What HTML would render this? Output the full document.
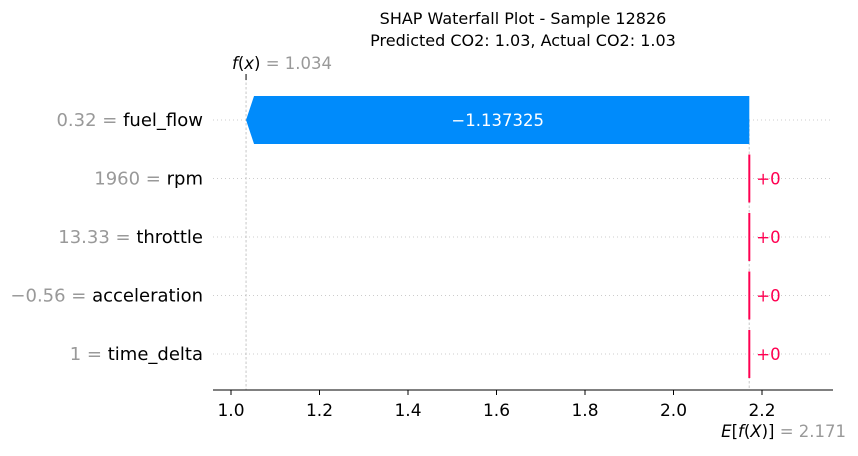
<!DOCTYPE html>
<html><head><meta charset="utf-8"><style>
body{margin:0;background:#fff;}
svg text{font-family:"DejaVu Sans","Liberation Sans",sans-serif;}
</style></head><body>
<svg id="chart" width="858" height="451">
<text x="523" y="24" font-size="16" text-anchor="middle">SHAP Waterfall Plot - Sample 12826</text>
<text x="523" y="46" font-size="16" text-anchor="middle">Predicted CO2: 1.03, Actual CO2: 1.03</text>
<g id="plot"></g>
</svg>
<script>
const features=["fuel_flow","rpm","throttle","acceleration","time_delta"];
const featureValues=["0.32","1960","13.33","\u22120.56","1"];
const shapValues=[-1.137325,0,0,0,0];
const shapLabels=["\u22121.137325","+0","+0","+0","+0"];
const baseValue=2.171;
const fx=1.034;
const ticks=[1.0,1.2,1.4,1.6,1.8,2.0,2.2];
const tickLabels=["1.0","1.2","1.4","1.6","1.8","2.0","2.2"];

const NS="http://www.w3.org/2000/svg";
const g=document.getElementById('plot');
function X(v){return 231+(v-1.0)*442.5;}
function rowY(i){return 120+i*58.5;}
function mk(t,a,txt){const e=document.createElementNS(NS,t);for(const k in a)e.setAttribute(k,a[k]);if(txt!==undefined)e.textContent=txt;g.appendChild(e);return e;}

features.forEach((f,i)=>{
  const l=mk('line',{x1:213,x2:833,y1:rowY(i),y2:rowY(i),stroke:'#ccc','stroke-dasharray':'1,3','stroke-width':1});
  
  
});
const v1=mk('line',{x1:X(fx),x2:X(fx),y1:78,y2:390,stroke:'#bbb','stroke-dasharray':'2.5,2','stroke-width':0.8});


const v2=mk('line',{x1:X(baseValue),x2:X(baseValue),y1:120,y2:390,stroke:'#bbb','stroke-dasharray':'2.5,2','stroke-width':0.8});


const fxt=mk('line',{x1:X(fx),x2:X(fx),y1:74,y2:80,stroke:'#000','stroke-width':1});



let cur=fx;
features.forEach((f,i)=>{
  const v=shapValues[i];
  const start=cur, end=cur-v;
  const y=rowY(i);
  if(v!==0){
    const x0=X(Math.min(start,end)), x1=X(Math.max(start,end));
    const h=24, tip=8;
    let pts;
    if(v<0) pts=`${x0},${y} ${x0+tip},${y-h} ${x1},${y-h} ${x1},${y+h} ${x0+tip},${y+h}`;
    else pts=`${x0},${y-h} ${x1-tip},${y-h} ${x1},${y} ${x1-tip},${y+h} ${x0},${y+h}`;
    const p=mk('polygon',{points:pts,fill:v<0?'#008bfb':'#ff0051'});
    
    
    const t=mk('text',{x:(x0+x1)/2,y:y+6,'font-size':16.5,fill:'#fff','text-anchor':'middle'},shapLabels[i]);
    
    
  } else {
    const x=X(start);
    const l=mk('line',{x1:x,x2:x,y1:y-24,y2:y+24,stroke:'#ff0051','stroke-width':2});
    
    
    const t=mk('text',{x:x+7,y:y+6,'font-size':16.5,fill:'#ff0051'},shapLabels[i]);
    
    
  }
  cur=end;
  const lab=mk('text',{x:203,y:y+6,'font-size':18,'text-anchor':'end'});
  
  
  const s1=document.createElementNS(NS,'tspan');s1.setAttribute('fill','#999');s1.textContent=featureValues[i]+' = ';lab.appendChild(s1);
  const s2=document.createElementNS(NS,'tspan');s2.setAttribute('fill','#000');s2.textContent=f;lab.appendChild(s2);
});

const ax=mk('line',{x1:213,x2:833,y1:390,y2:390,stroke:'#000','stroke-width':1});


ticks.forEach((t,i)=>{
  const tl=mk('line',{x1:X(t),x2:X(t),y1:390,y2:395,stroke:'#000','stroke-width':1});
  
  
  const tt=mk('text',{x:X(t),y:416,'font-size':17,'text-anchor':'middle'},tickLabels[i]);
  
  
});

const fl=mk('text',{x:X(fx)-14,y:69,'font-size':16.5});


fl.innerHTML='<tspan font-style="italic">f</tspan>(<tspan font-style="italic">x</tspan>)<tspan fill="#999"> = '+fx.toFixed(3)+'</tspan>';
const el=mk('text',{x:X(baseValue)-28,y:437,'font-size':16.5});


el.innerHTML='<tspan font-style="italic">E</tspan>[<tspan font-style="italic">f</tspan>(<tspan font-style="italic">X</tspan>)]<tspan fill="#999"> = '+baseValue.toFixed(3)+'</tspan>';
</script>
</body></html>
